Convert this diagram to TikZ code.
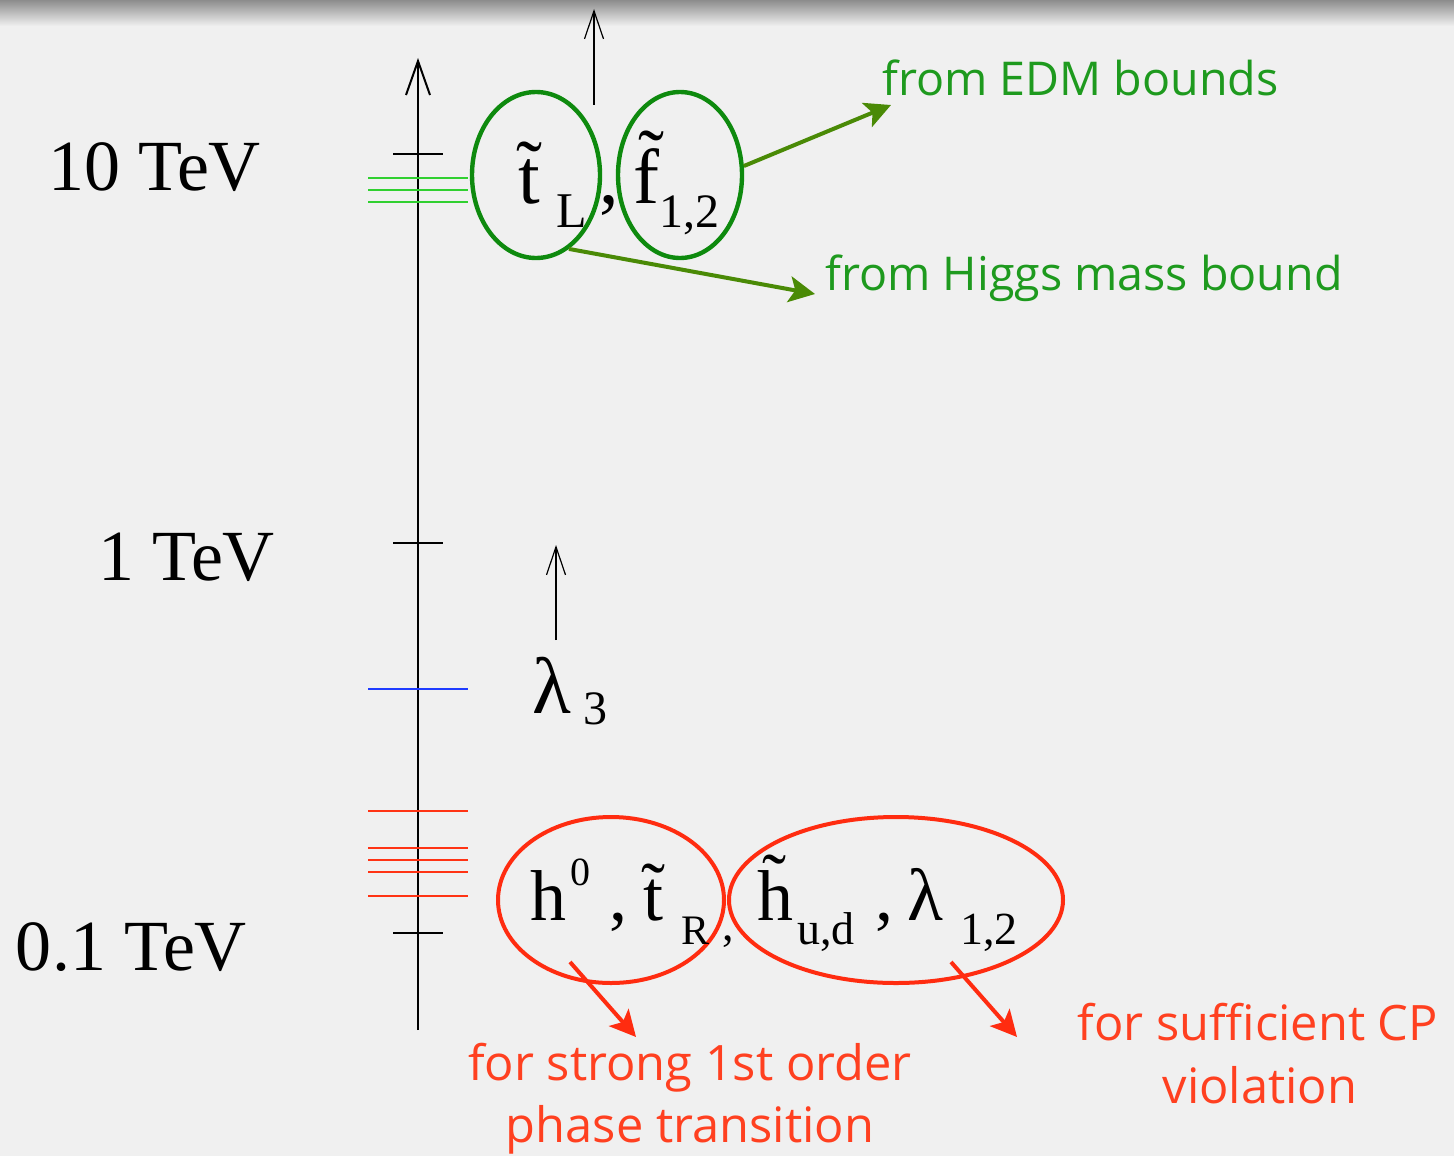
\documentclass[tikz,border=0pt]{standalone}
\usepackage{fontspec}
\setmainfont{Liberation Serif}
\newfontfamily\comicfont{Open Sans}
\usetikzlibrary{arrows.meta,shapes.geometric}
\definecolor{bg}{HTML}{F0F0F0}
\definecolor{shadowgray}{HTML}{8C8C8C}
\definecolor{lvlgreen}{HTML}{30D030}
\definecolor{lvlblue}{HTML}{1F3CFF}
\definecolor{lvlred}{HTML}{FF3314}
\definecolor{ellgreen}{HTML}{0E8A0E}
\definecolor{txtgreen}{HTML}{1E9A1E}
\definecolor{arrgreen}{HTML}{4A8A06}
\definecolor{ellred}{HTML}{FF2C10}
\definecolor{txtred}{HTML}{FF4020}
\tikzset{
  axisline/.style={line width=1pt, -{Straight Barb[length=17pt,width=12pt,line width=1pt]}},
  thinup/.style={line width=0.6pt, -{Straight Barb[length=14pt,width=9.5pt,line width=0.6pt]}},
  tickline/.style={line width=1pt, black},
  lvl/.style={line width=1.2pt},
  gell/.style={ellipse, draw=ellgreen, line width=2.2pt, inner sep=0pt},
  rell/.style={ellipse, draw=ellred, line width=2pt, inner sep=0pt},
  garrow/.style={arrgreen, line width=2pt, -{Stealth[length=13pt,width=13pt,inset=3pt]}},
  rarrow/.style={ellred, line width=2pt, -{Stealth[length=13pt,width=13pt,inset=3pt]}},
  txt/.style={anchor=base west, inner sep=0pt, outer sep=0pt},
  big/.style={txt, font=\fontsize{36}{40}\selectfont},
  bigger/.style={txt, font=\fontsize{39}{42}\selectfont},
  sub/.style={txt, font=\fontsize{23}{26}\selectfont},
  ssub/.style={txt, font=\fontsize{20}{24}\selectfont},
  gnote/.style={anchor=base west, inner sep=0pt, text=txtgreen, font=\comicfont\fontsize{23.3}{28}\selectfont},
  rnote/.style={anchor=base, inner sep=0pt, text=txtred, font=\comicfont\fontsize{24.4}{28}\selectfont},
}
\begin{document}
\begin{tikzpicture}[x=0.5pt,y=-0.5pt]
% background
\fill[bg] (0,0) rectangle (1454,1156);
\shade[top color=shadowgray, bottom color=bg] (0,0) rectangle (1454,26);
\useasboundingbox (0,0) rectangle (1454,1156);

% energy axis
\coordinate (axbot) at (418,1030);
\coordinate (axtop) at (418,58);
\draw[axisline] (axbot) -- (axtop);

% ticks
\draw[tickline] (393,154) -- (443,154);
\draw[tickline] (393,543) -- (443,543);
\draw[tickline] (393,933) -- (443,933);

% level lines
\draw[lvl, lvlgreen] (368,178) -- (468,178);
\draw[lvl, lvlgreen] (368,190) -- (468,190);
\draw[lvl, lvlgreen] (368,202) -- (468,202);
\draw[lvl, lvlblue] (368,689) -- (468,689);
\foreach \yy in {811,848,860,872,896} \draw[lvl, lvlred] (368,\yy) -- (468,\yy);

% scale labels
\node[big] (l10) at (48,190) {10 TeV};
\node[big] (l1) at (98,580) {1 TeV};
\node[big] (l01) at (16,970) {0.1 TeV};

% top group
\node[gell, minimum width=64pt, minimum height=83pt] (e1) at (536,175) {};
\node[gell, minimum width=62pt, minimum height=83pt] (e2) at (680,175) {};
\node[bigger] (tl) at (518,203) {\~{t}};
\node[txt, font=\fontsize{25}{28}\selectfont] (tlsub) at (556,227) {L};
\node[bigger] (c1) at (599,203) {,};
\node[bigger] (f12) at (633,203) {\~{f}};
\node[txt, font=\fontsize{24}{28}\selectfont] (f12sub) at (659,227) {1,2};
\coordinate (upA0) at (594,105);
\coordinate (upA1) at (594,9);
\draw[thinup] (upA0) -- (upA1);

\node[gnote] (edm) at (882,96) {from EDM bounds};
\node[gnote] (higgs) at (825,290) {from Higgs mass bound};
\coordinate (edmtip) at (891,105);
\coordinate (higgstip) at (815,294);
\draw[garrow] (e2.8) -- (edmtip);
\draw[garrow] (e1.-66) -- (higgstip);

% lambda 3
\coordinate (upB0) at (556,640);
\coordinate (upB1) at (556,545);
\draw[thinup] (upB0) -- (upB1);
\node[txt, font=\fontsize{40}{44}\selectfont] (lam3) at (532,713) {λ};
\node[txt, font=\fontsize{24}{26}\selectfont] (lam3sub) at (583,724) {3};

% bottom group
\node[rell, minimum width=113pt, minimum height=83pt] (e3) at (611,900) {};
\node[rell, minimum width=167pt, minimum height=83pt] (e4) at (896,900) {};
\node[big] (h0) at (530,920) {h};
\node[ssub] (h0sup) at (570,885) {0};
\node[big] (c2) at (609,920) {,};
\node[big] (tr) at (643,920) {\~{t}};
\node[txt, font=\fontsize{21}{24}\selectfont] (trsub) at (681,944) {R};
\node[sub] (c3) at (722,940) {,};
\node[big] (hud) at (757,920) {\~{h}};
\node[sub] (hudsub) at (797,944) {u,d};
\node[big] (c4) at (875,920) {,};
\node[txt, font=\fontsize{37}{40}\selectfont] (lam12) at (907,920) {λ};
\node[sub] (lam12sub) at (960,944) {1,2};

\coordinate (rA0) at (570,962);
\coordinate (rA1) at (636,1037);
\coordinate (rB0) at (951,962);
\coordinate (rB1) at (1017,1037);
\draw[rarrow] (rA0) -- (rA1);
\draw[rarrow] (rB0) -- (rB1);

\node[rnote] (pt1) at (690,1080) {for strong 1st order};
\node[rnote] (pt2) at (690,1142) {phase transition};
\node[rnote] (cp1) at (1258,1040) {for sufficient CP};
\node[rnote] (cp2) at (1260,1103) {violation};
\end{tikzpicture}
\end{document}
